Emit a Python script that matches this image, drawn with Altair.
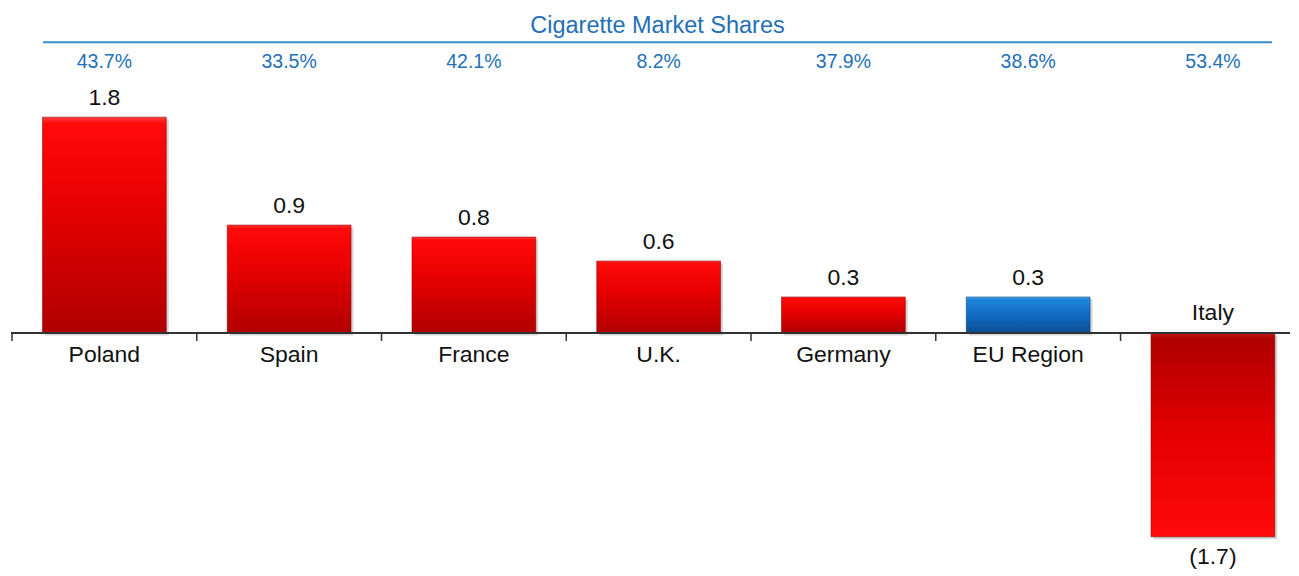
import altair as alt
import pandas as pd

countries = ["Poland", "Spain", "France", "U.K.", "Germany", "EU Region", "Italy"]
values = [1.8, 0.9, 0.8, 0.6, 0.3, 0.3, -1.7]
shares = ["43.7%", "33.5%", "42.1%", "8.2%", "37.9%", "38.6%", "53.4%"]
kind = ["country", "country", "country", "country", "country", "region", "country"]
header_title = ["Cigarette Market Shares"]

df = pd.DataFrame({"country": countries, "value": values, "share": shares, "kind": kind})
df["idx"] = range(len(countries))
df["label"] = [f"{v:.1f}" if v >= 0 else f"({-v:.1f})" for v in values]

FONT = "Liberation Sans"
BLUE_TXT = "#2370b6"
W, H = 1283, 560
STEP = 184.9          # pixels per category
PX = 120.0            # pixels per unit
Y0 = 325.0            # pixel position of zero within plot
ydom = [-(H - Y0) / PX, Y0 / PX]
dmin = -0.5 - 4.0 / STEP
xdom = [dmin, dmin + W / STEP]
HALF = 0.335          # half bar width in category steps
SH = 2.5              # shadow offset, px

xsc = alt.Scale(domain=xdom, nice=False, zero=False)
ysc = alt.Scale(domain=ydom, nice=False, zero=False)

base = alt.Chart(df).transform_calculate(
    x0=f"datum.idx - {HALF}", x1=f"datum.idx + {HALF}", edge="datum.idx - 0.5", zero="0",
    sx0=f"datum.idx - {HALF} + {SH / STEP}", sx1=f"datum.idx + {HALF} + {SH / STEP}",
    sy0=f"datum.value - {SH / PX}", sy1=f"0 - {SH / PX}",
)

def bar_layer(filt, color, edge):
    return base.transform_filter(filt).mark_bar(
        color=color, stroke=edge, strokeWidth=0.8, strokeOpacity=0.7).encode(
        x=alt.X("x0:Q", scale=xsc, axis=None), x2="x1:Q",
        y=alt.Y("value:Q", scale=ysc, axis=None), y2="zero:Q")

red_pos = alt.LinearGradient(gradient="linear", x1=0, x2=0, y1=0, y2=1, stops=[
    alt.GradientStop(color="#ff4040", offset=0),
    alt.GradientStop(color="#ff0a0a", offset=0.03),
    alt.GradientStop(color="#e80000", offset=0.4),
    alt.GradientStop(color="#b00000", offset=1)])
red_neg = alt.LinearGradient(gradient="linear", x1=0, x2=0, y1=0, y2=1, stops=[
    alt.GradientStop(color="#c41818", offset=0),
    alt.GradientStop(color="#b00000", offset=0.03),
    alt.GradientStop(color="#e40000", offset=0.5),
    alt.GradientStop(color="#ff0a0a", offset=1)])
blue_g = alt.LinearGradient(gradient="linear", x1=0, x2=0, y1=0, y2=1, stops=[
    alt.GradientStop(color="#5aaef2", offset=0),
    alt.GradientStop(color="#1f86dc", offset=0.06),
    alt.GradientStop(color="#1068bd", offset=0.55),
    alt.GradientStop(color="#0a4d93", offset=1)])

shadow = base.mark_bar(color="#000000", opacity=0.16).encode(
    x=alt.X("sx0:Q", scale=xsc, axis=None), x2="sx1:Q",
    y=alt.Y("sy0:Q", scale=ysc, axis=None), y2="sy1:Q")
bars_pos = bar_layer("datum.value >= 0 && datum.kind == 'country'", red_pos, "#8a0000")
bars_eu = bar_layer("datum.kind == 'region'", blue_g, "#083d78")
bars_neg = bar_layer("datum.value < 0", red_neg, "#8a0000")

axis_line = base.mark_rule(color="#333333", strokeWidth=1.5).encode(
    y=alt.Y("zero:Q", scale=ysc, axis=None), x=alt.value(3), x2=alt.value(W))
ticks = base.mark_rule(color="#333333", strokeWidth=1.5).encode(
    x=alt.X("edge:Q", scale=xsc, axis=None),
    y=alt.Y("zero:Q", scale=ysc, axis=None), y2=alt.value(Y0 + 8))

xc = alt.X("idx:Q", scale=xsc, axis=None)

val_pos = base.transform_filter("datum.value >= 0").mark_text(
    font=FONT, fontSize=23, color="#111111", baseline="alphabetic", dy=-12).encode(
    x=xc, y=alt.Y("value:Q", scale=ysc, axis=None), text="label:N")
val_neg = base.transform_filter("datum.value < 0").mark_text(
    font=FONT, fontSize=23, color="#111111", baseline="alphabetic", dy=27).encode(
    x=xc, y=alt.Y("value:Q", scale=ysc, axis=None), text="label:N")

cty_pos = base.transform_filter("datum.value >= 0").mark_text(
    font=FONT, fontSize=23, color="#111111", baseline="alphabetic", dy=29).encode(
    x=xc, y=alt.Y("zero:Q", scale=ysc, axis=None), text="country:N")
cty_neg = base.transform_filter("datum.value < 0").mark_text(
    font=FONT, fontSize=23, color="#111111", baseline="alphabetic", dy=-13).encode(
    x=xc, y=alt.Y("zero:Q", scale=ysc, axis=None), text="country:N")

pct = base.mark_text(font=FONT, fontSize=19.5, color=BLUE_TXT, baseline="alphabetic").encode(
    x=xc, y=alt.value(60), text="share:N")

title_df = pd.DataFrame({"t": header_title})
title = alt.Chart(title_df).mark_text(font=FONT, fontSize=23.5, color=BLUE_TXT, baseline="alphabetic").encode(
    x=alt.value(650), y=alt.value(25.3), text="t:N")
hline = alt.Chart(title_df).mark_rule(color="#3a8dcc", strokeWidth=2).encode(
    x=alt.value(35), x2=alt.value(1265), y=alt.value(34))

chart = alt.layer(
    shadow, bars_pos, bars_eu, bars_neg, axis_line, ticks,
    val_pos, val_neg, cty_pos, cty_neg, pct, title, hline
).properties(
    width=W, height=H,
    padding={"left": 0, "top": 0, "right": 0, "bottom": 0},
    background="white"
).configure_view(stroke=None)

chart.save("out.html", embed_options={"renderer": "svg", "actions": False})
